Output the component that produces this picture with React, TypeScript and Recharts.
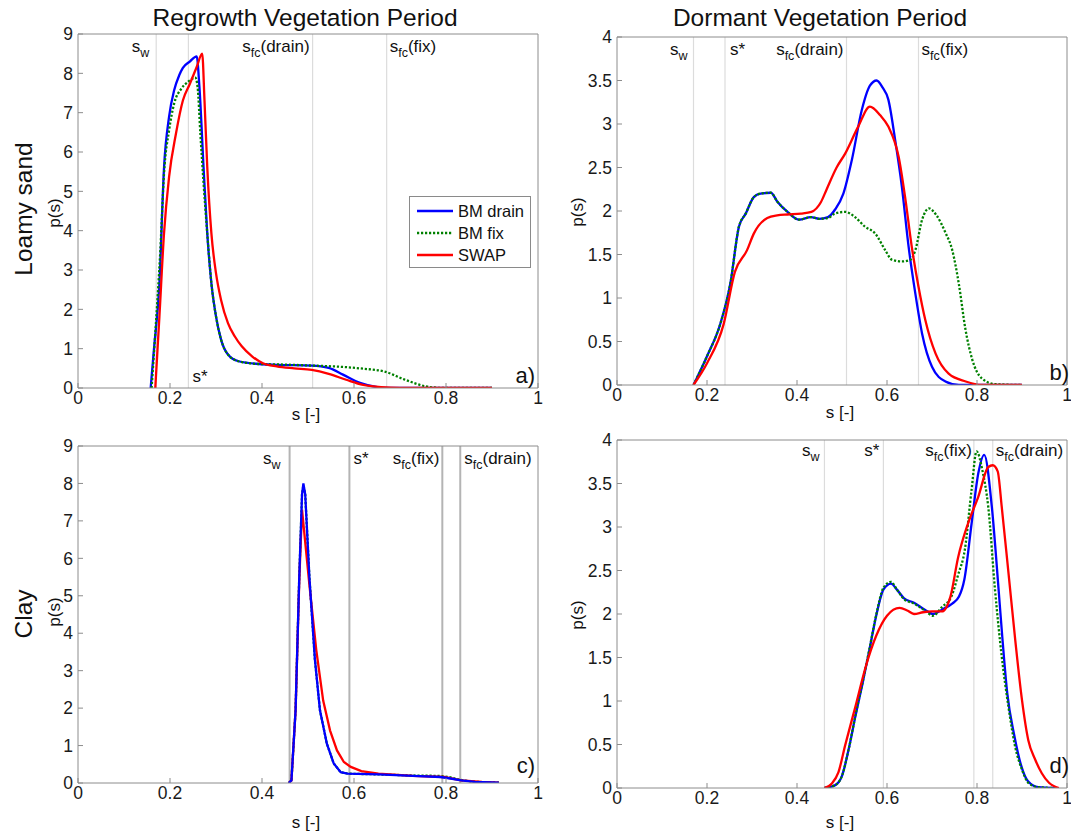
import React from 'react';
import { LineChart, Line, XAxis, YAxis, ReferenceLine, Legend } from 'recharts';

const FONT = '"Liberation Sans", Arial, Helvetica, sans-serif';
const AXIS = '#8c8c8c';

const seriesNames = ['BM drain', 'BM fix', 'SWAP'];
const seriesColors = ['#0000ff', '#008000', '#ff0000'];
const seriesDash = ['', '2.2 1.8', ''];

const xTicks = [0, 0.2, 0.4, 0.6, 0.8, 1];
const yTicks9 = [0, 1, 2, 3, 4, 5, 6, 7, 8, 9];
const yTicks4 = [0, 0.5, 1, 1.5, 2, 2.5, 3, 3.5, 4];

const titles = ['Regrowth Vegetation Period', 'Dormant Vegetation Period'];
const rowLabels = ['Loamy sand', 'Clay'];
const panelLetters = ['a)', 'b)', 'c)', 'd)'];

// Panel a: loamy sand, regrowth
const aDrainS = [0.158, 0.165, 0.177, 0.187, 0.198, 0.209, 0.22, 0.228, 0.243, 0.258, 0.264, 0.273, 0.281, 0.29, 0.3, 0.311, 0.326, 0.349, 0.394, 0.432, 0.508, 0.545, 0.576, 0.613, 0.651, 0.666, 0.9];
const aDrainP = [0, 0.97, 2.66, 5.6, 6.9, 7.57, 7.95, 8.14, 8.3, 8.43, 7.65, 5.6, 3.93, 2.66, 1.82, 1.23, 0.85, 0.68, 0.61, 0.59, 0.57, 0.51, 0.34, 0.13, 0.02, 0, 0];
const aFixS = [0.16, 0.168, 0.179, 0.187, 0.198, 0.209, 0.224, 0.239, 0.255, 0.26, 0.266, 0.273, 0.281, 0.29, 0.3, 0.311, 0.326, 0.349, 0.394, 0.432, 0.508, 0.583, 0.62, 0.666, 0.711, 0.757, 0.795, 0.9];
const aFixP = [0, 1.4, 3.5, 5.45, 6.55, 7.23, 7.6, 7.78, 7.89, 7.65, 6.47, 5.2, 3.93, 2.66, 1.82, 1.23, 0.85, 0.68, 0.61, 0.6, 0.57, 0.53, 0.49, 0.42, 0.21, 0.04, 0, 0];
const aSwapS = [0.168, 0.177, 0.187, 0.198, 0.213, 0.228, 0.243, 0.258, 0.27, 0.275, 0.281, 0.29, 0.3, 0.311, 0.326, 0.341, 0.356, 0.379, 0.402, 0.432, 0.47, 0.508, 0.545, 0.583, 0.62, 0.659, 0.7, 0.9];
const aSwapP = [0, 1.82, 3.93, 5.37, 6.47, 7.31, 7.73, 8.16, 8.5, 7.31, 5.62, 3.93, 2.92, 2.24, 1.65, 1.31, 1.06, 0.8, 0.63, 0.55, 0.5, 0.46, 0.36, 0.21, 0.08, 0.02, 0, 0];

// Panel b: loamy sand, dormant
const bDrainS = [0.17, 0.2, 0.23, 0.252, 0.271, 0.286, 0.304, 0.319, 0.342, 0.356, 0.379, 0.405, 0.431, 0.449, 0.469, 0.485, 0.503, 0.522, 0.544, 0.562, 0.577, 0.59, 0.603, 0.618, 0.633, 0.648, 0.663, 0.678, 0.7, 0.73, 0.76, 0.9];
const bDrainP = [0, 0.33, 0.71, 1.17, 1.82, 1.97, 2.16, 2.2, 2.21, 2.11, 1.99, 1.9, 1.93, 1.91, 1.93, 2.02, 2.2, 2.59, 3.16, 3.44, 3.5, 3.42, 3.28, 2.82, 2.28, 1.59, 1.05, 0.59, 0.21, 0.04, 0, 0];
const bFixS = [0.17, 0.2, 0.23, 0.252, 0.271, 0.286, 0.304, 0.319, 0.342, 0.356, 0.379, 0.405, 0.431, 0.449, 0.469, 0.484, 0.507, 0.529, 0.551, 0.574, 0.596, 0.611, 0.633, 0.652, 0.663, 0.678, 0.693, 0.71, 0.73, 0.745, 0.76, 0.774, 0.789, 0.81, 0.84, 0.9];
const bFixP = [0, 0.33, 0.71, 1.17, 1.82, 1.97, 2.16, 2.2, 2.21, 2.11, 1.99, 1.9, 1.93, 1.91, 1.92, 1.97, 1.99, 1.93, 1.82, 1.74, 1.55, 1.44, 1.42, 1.44, 1.55, 1.9, 2.03, 1.95, 1.75, 1.55, 1.15, 0.65, 0.3, 0.08, 0.01, 0];
const bSwapS = [0.17, 0.2, 0.237, 0.262, 0.289, 0.304, 0.334, 0.356, 0.379, 0.409, 0.432, 0.453, 0.466, 0.488, 0.507, 0.536, 0.562, 0.585, 0.603, 0.626, 0.641, 0.655, 0.67, 0.685, 0.708, 0.737, 0.775, 0.81, 0.9];
const bSwapP = [0, 0.25, 0.7, 1.3, 1.55, 1.74, 1.92, 1.95, 1.96, 1.97, 1.99, 2.1, 2.25, 2.5, 2.66, 2.97, 3.2, 3.1, 2.97, 2.62, 2.13, 1.59, 1.13, 0.75, 0.36, 0.13, 0.04, 0, 0];

// Panel c: clay, regrowth
const cDrainS = [0.458, 0.464, 0.473, 0.481, 0.487, 0.49, 0.494, 0.503, 0.515, 0.526, 0.541, 0.556, 0.571, 0.586, 0.653, 0.728, 0.788, 0.81, 0.833, 0.863, 0.915];
const cDrainP = [0, 0.07, 1.94, 5.5, 7.7, 8.0, 7.7, 5.5, 3.3, 1.94, 1.05, 0.52, 0.29, 0.25, 0.23, 0.19, 0.16, 0.12, 0.07, 0.03, 0.01];
const cFixS = [0.458, 0.464, 0.473, 0.481, 0.487, 0.49, 0.494, 0.503, 0.515, 0.526, 0.541, 0.556, 0.571, 0.586, 0.653, 0.728, 0.788, 0.81, 0.833, 0.863, 0.915];
const cFixP = [0, 0.07, 1.94, 5.5, 7.7, 7.95, 7.7, 5.5, 3.3, 1.94, 1.05, 0.52, 0.29, 0.25, 0.23, 0.2, 0.19, 0.15, 0.08, 0.03, 0.01];
const cSwapS = [0.458, 0.464, 0.473, 0.481, 0.487, 0.503, 0.518, 0.533, 0.548, 0.563, 0.578, 0.593, 0.616, 0.653, 0.728, 0.796, 0.833, 0.878, 0.915];
const cSwapP = [0, 0.07, 1.94, 5.4, 7.3, 5.3, 3.55, 2.2, 1.4, 0.87, 0.56, 0.43, 0.32, 0.25, 0.19, 0.16, 0.07, 0.03, 0.01];

// Panel d: clay, dormant
const dDrainS = [0.461, 0.484, 0.5, 0.515, 0.53, 0.546, 0.561, 0.576, 0.592, 0.609, 0.622, 0.638, 0.66, 0.684, 0.702, 0.722, 0.745, 0.76, 0.772, 0.788, 0.803, 0.816, 0.833, 0.848, 0.856, 0.867, 0.883, 0.898, 0.913, 0.936, 0.975];
const dDrainP = [0, 0.03, 0.14, 0.45, 0.83, 1.21, 1.59, 1.98, 2.28, 2.35, 2.28, 2.18, 2.13, 2.05, 2.0, 2.05, 2.12, 2.2, 2.4, 3.04, 3.62, 3.83, 3.23, 2.28, 1.75, 1.1, 0.6, 0.26, 0.08, 0.01, 0];
const dFixS = [0.461, 0.484, 0.5, 0.515, 0.53, 0.546, 0.561, 0.576, 0.592, 0.609, 0.622, 0.638, 0.66, 0.684, 0.702, 0.722, 0.743, 0.758, 0.773, 0.788, 0.799, 0.812, 0.825, 0.84, 0.855, 0.87, 0.885, 0.9, 0.914, 0.935, 0.975];
const dFixP = [0, 0.03, 0.14, 0.45, 0.84, 1.22, 1.6, 1.99, 2.3, 2.37, 2.28, 2.17, 2.12, 2.04, 1.98, 2.08, 2.2, 2.45, 2.74, 3.43, 3.87, 3.65, 3.23, 2.28, 1.51, 0.93, 0.47, 0.21, 0.06, 0.01, 0];
const dSwapS = [0.461, 0.477, 0.492, 0.507, 0.53, 0.553, 0.576, 0.6, 0.628, 0.645, 0.66, 0.68, 0.7, 0.722, 0.741, 0.758, 0.78, 0.803, 0.825, 0.835, 0.846, 0.855, 0.87, 0.885, 0.9, 0.914, 0.929, 0.944, 0.96, 0.982];
const dSwapP = [0, 0.05, 0.18, 0.49, 0.94, 1.4, 1.75, 1.98, 2.07, 2.04, 2.0, 2.02, 2.03, 2.03, 2.2, 2.65, 3.04, 3.35, 3.69, 3.71, 3.64, 3.23, 2.47, 1.7, 1.01, 0.55, 0.33, 0.17, 0.06, 0];

// Threshold soil moisture values per panel
const aThresholds = [0.17, 0.24, 0.51, 0.671];
const bThresholds = [0.17, 0.24, 0.51, 0.67];
const cThresholds = [0.46, 0.59, 0.792, 0.831];
const dThresholds = [0.461, 0.592, 0.793, 0.835];

const zip = (s: number[], p: number[]) => s.map((v, i) => ({ s: v, p: p[i] }));

type RefCfg = { main: string; sub?: string; tail?: string; side: 'left' | 'right'; at: 'top' | 'bottom'; gap: number };

const SW = { main: 's', sub: 'w' };
const SSTAR = { main: 's*' };
const SFCD = { main: 's', sub: 'fc', tail: '(drain)' };
const SFCF = { main: 's', sub: 'fc', tail: '(fix)' };

function RefLabel(props: any) {
  const { viewBox, cfg, dyTop } = props;
  if (!viewBox) return null;
  const c: RefCfg = cfg;
  const x = viewBox.x + (c.side === 'right' ? c.gap : -c.gap);
  const y = c.at === 'top' ? viewBox.y + dyTop : viewBox.y + viewBox.height - 6;
  return (
    <text x={x} y={y} textAnchor={c.side === 'right' ? 'start' : 'end'} fontSize={17} fill="#111" fontFamily={FONT}>
      {c.main}
      {c.sub ? <tspan dy={5} fontSize={12.5}>{c.sub}</tspan> : null}
      {c.tail ? <tspan dy={c.sub ? -5 : 0}>{c.tail}</tspan> : null}
    </text>
  );
}

function LegendBox() {
  return (
    <div style={{ width: 122, height: 72, boxSizing: 'border-box', border: '1px solid #8a8a8a', background: '#fff', padding: '3px 0 0 0', fontFamily: FONT, fontSize: 16.5, color: '#111' }}>
      {seriesNames.map((n, i) => (
        <div key={n} style={{ display: 'flex', alignItems: 'center', height: 22 }}>
          <svg width={44} height={10} style={{ marginLeft: 7 }}>
            <line x1={0} y1={5} x2={36} y2={5} stroke={seriesColors[i]} strokeWidth={2.4} strokeDasharray={seriesDash[i] || undefined} />
          </svg>
          <span style={{ marginLeft: -3 }}>{n}</span>
        </div>
      ))}
    </div>
  );
}

const panels = [
  {
    key: 'a', left: 0, top: 0, width: 545, height: 420,
    margin: { top: 33, right: 6, bottom: 4, left: 33 },
    yMax: 9, yTicks: yTicks9,
    series: [zip(aDrainS, aDrainP), zip(aFixS, aFixP), zip(aSwapS, aSwapP)],
    order: [0, 1, 2], lineType: 'monotone',
    thresholds: aThresholds,
    refs: [
      { ...SW, side: 'left', at: 'top', gap: 7 },
      { ...SSTAR, side: 'right', at: 'bottom', gap: 4 },
      { ...SFCD, side: 'left', at: 'top', gap: 3 },
      { ...SFCF, side: 'right', at: 'top', gap: 3 },
    ],
    refColor: '#dcdcdc', refWidth: 1.2, dyTop: 18, legend: true,
  },
  {
    key: 'b', left: 545, top: 0, width: 526, height: 420,
    margin: { top: 36, right: 3, bottom: 7, left: 27 },
    yMax: 4, yTicks: yTicks4,
    series: [zip(bDrainS, bDrainP), zip(bFixS, bFixP), zip(bSwapS, bSwapP)],
    order: [0, 1, 2], lineType: 'monotone',
    thresholds: bThresholds,
    refs: [
      { ...SW, side: 'left', at: 'top', gap: 6 },
      { ...SSTAR, side: 'right', at: 'top', gap: 5 },
      { ...SFCD, side: 'left', at: 'top', gap: 3 },
      { ...SFCF, side: 'right', at: 'top', gap: 3 },
    ],
    refColor: '#dcdcdc', refWidth: 1.2, dyTop: 18, legend: false,
  },
  {
    key: 'c', left: 0, top: 420, width: 545, height: 415,
    margin: { top: 25, right: 6, bottom: 24, left: 33 },
    yMax: 9, yTicks: yTicks9,
    series: [zip(cDrainS, cDrainP), zip(cFixS, cFixP), zip(cSwapS, cSwapP)],
    order: [1, 2, 0], lineType: 'linear',
    thresholds: cThresholds,
    refs: [
      { ...SW, side: 'left', at: 'top', gap: 9 },
      { ...SSTAR, side: 'right', at: 'top', gap: 4 },
      { ...SFCF, side: 'left', at: 'top', gap: 3 },
      { ...SFCD, side: 'right', at: 'top', gap: 4 },
    ],
    refColor: '#b4b4b4', refWidth: 2, dyTop: 18, legend: false,
  },
  {
    key: 'd', left: 545, top: 420, width: 526, height: 415,
    margin: { top: 19, right: 3, bottom: 19, left: 27 },
    yMax: 4, yTicks: yTicks4,
    series: [zip(dDrainS, dDrainP), zip(dFixS, dFixP), zip(dSwapS, dSwapP)],
    order: [0, 1, 2], lineType: 'monotone',
    thresholds: dThresholds,
    refs: [
      { ...SW, side: 'left', at: 'top', gap: 5 },
      { ...SSTAR, side: 'left', at: 'top', gap: 4 },
      { ...SFCF, side: 'left', at: 'top', gap: 2 },
      { ...SFCD, side: 'right', at: 'top', gap: 3 },
    ],
    refColor: '#dcdcdc', refWidth: 1.2, dyTop: 16, legend: false,
  },
];

const tickStyle = { fill: '#1a1a1a', fontSize: 17.5, fontFamily: FONT };

function Panel({ p }: { p: any }) {
  return (
    <div style={{ position: 'absolute', left: p.left, top: p.top }}>
      <LineChart width={p.width} height={p.height} margin={p.margin}>
        <XAxis type="number" dataKey="s" domain={[0, 1]} ticks={xTicks} interval={0} height={28}
          tickSize={-5} tickMargin={9} stroke={AXIS} tick={tickStyle} allowDataOverflow />
        <XAxis xAxisId="top" orientation="top" type="number" dataKey="s" domain={[0, 1]} ticks={xTicks}
          interval={0} height={1} tickSize={-5} tick={false} stroke={AXIS} allowDataOverflow />
        <YAxis type="number" domain={[0, p.yMax]} ticks={p.yTicks} interval={0} width={45}
          tickSize={-5} tickMargin={10} stroke={AXIS} tick={tickStyle} allowDataOverflow />
        <YAxis yAxisId="right" orientation="right" type="number" domain={[0, p.yMax]} ticks={p.yTicks}
          interval={0} width={1} tickSize={-5} tick={false} stroke={AXIS} allowDataOverflow />
        {p.thresholds.map((t: number, i: number) => (
          <ReferenceLine key={'r' + i} x={t} stroke={p.refColor} strokeWidth={p.refWidth}
            label={(lp: any) => <RefLabel {...lp} cfg={p.refs[i]} dyTop={p.dyTop} />} />
        ))}
        {p.order.map((si: number) => (
          <Line key={seriesNames[si]} name={seriesNames[si]} data={p.series[si]} dataKey="p" type={p.lineType}
            stroke={seriesColors[si]} strokeWidth={2.3} strokeDasharray={seriesDash[si] || undefined}
            dot={false} activeDot={false} isAnimationActive={false} />
        ))}
        {p.legend ? (
          <Legend layout="vertical" align="center" verticalAlign="middle" content={() => <LegendBox />}
            wrapperStyle={{ left: 409, top: 196, width: 122, height: 72 }} />
        ) : null}
      </LineChart>
    </div>
  );
}

const abs = (extra: React.CSSProperties): React.CSSProperties => ({
  position: 'absolute', whiteSpace: 'nowrap', fontFamily: FONT, color: '#111', lineHeight: 1, ...extra,
});

function CText({ x, y, size, rot, children }: { x: number; y: number; size: number; rot?: boolean; children: React.ReactNode }) {
  return (
    <div style={abs({ left: x, top: y, fontSize: size, transform: `translate(-50%, -50%)${rot ? ' rotate(-90deg)' : ''}` })}>
      {children}
    </div>
  );
}

export default function App() {
  return (
    <div style={{ position: 'absolute', left: 0, top: 0, width: 1071, height: 835, background: '#fff', overflow: 'hidden' }}>
      {panels.map((p) => <Panel key={p.key} p={p} />)}
      <CText x={305} y={18} size={24.5}>{titles[0]}</CText>
      <CText x={820} y={18} size={24.5}>{titles[1]}</CText>
      <CText x={24} y={209} size={24.5} rot>{rowLabels[0]}</CText>
      <CText x={24} y={614} size={24.5} rot>{rowLabels[1]}</CText>
      <CText x={54} y={213} size={17} rot>p(s)</CText>
      <CText x={577} y={212} size={17} rot>p(s)</CText>
      <CText x={54} y={612} size={17} rot>p(s)</CText>
      <CText x={577} y={615} size={17} rot>p(s)</CText>
      <CText x={306} y={414} size={17}>s [-]</CText>
      <CText x={840} y={412} size={17}>s [-]</CText>
      <CText x={306} y={822} size={17}>s [-]</CText>
      <CText x={840} y={822} size={17}>s [-]</CText>
      <div style={abs({ right: 1071 - 535, top: 365, fontSize: 22 })}>{panelLetters[0]}</div>
      <div style={abs({ right: 2, top: 362, fontSize: 22 })}>{panelLetters[1]}</div>
      <div style={abs({ right: 1071 - 535, top: 755, fontSize: 22 })}>{panelLetters[2]}</div>
      <div style={abs({ right: 2, top: 755, fontSize: 22 })}>{panelLetters[3]}</div>
    </div>
  );
}
